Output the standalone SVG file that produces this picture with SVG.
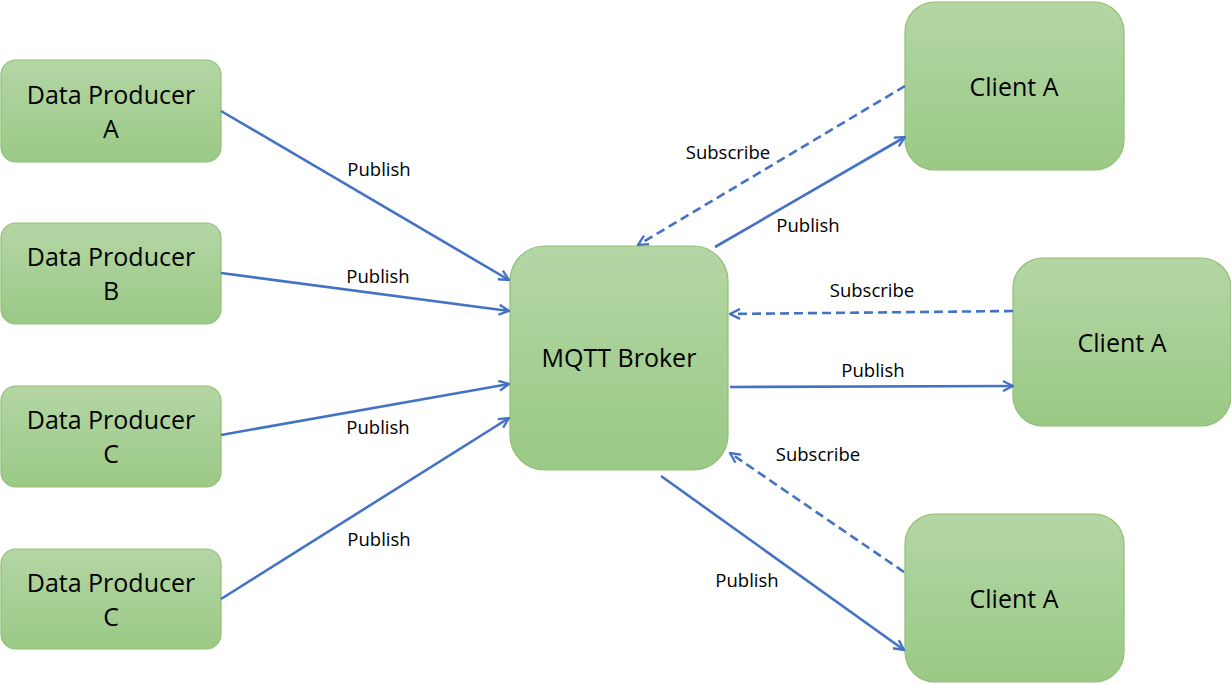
<svg xmlns="http://www.w3.org/2000/svg" width="1231" height="684" viewBox="0 0 1231 684">
<style>
.box{fill:url(#g);stroke:#8fbf72;stroke-width:1.2}
.nt{font-family:"Open Sans","Liberation Sans",sans-serif;font-size:25px;fill:#000;text-anchor:middle}
.lt{font-family:"Open Sans","Liberation Sans",sans-serif;font-size:18.5px;fill:#000;text-anchor:middle}
.c{stroke:#4472c4;stroke-width:2.6;fill:none;marker-end:url(#ah)}
.d{stroke-dasharray:9,5}
</style>
<defs>
<linearGradient id="g" x1="0" y1="0" x2="0" y2="1">
<stop offset="0" stop-color="#b4d6a5"/>
<stop offset="1" stop-color="#9ac985"/>
</linearGradient>
<marker id="ah" viewBox="0 0 12 12" refX="11" refY="6" markerWidth="12" markerHeight="12" markerUnits="userSpaceOnUse" orient="auto">
<path d="M1,1 L11,6 L1,11" fill="none" stroke="#4472c4" stroke-width="2.3"/>
</marker>
</defs>
<g id="producerA"><rect class="box" x="1" y="60" width="220" height="102" rx="15"/><text class="nt" x="111" y="104">Data Producer</text><text class="nt" x="111" y="138">A</text></g>
<g id="producerB"><rect class="box" x="1" y="223" width="220" height="101" rx="15"/><text class="nt" x="111" y="266">Data Producer</text><text class="nt" x="111" y="300">B</text></g>
<g id="producerC"><rect class="box" x="1" y="386" width="220" height="101" rx="15"/><text class="nt" x="111" y="429">Data Producer</text><text class="nt" x="111" y="463">C</text></g>
<g id="producerC2"><rect class="box" x="1" y="549" width="220" height="100" rx="15"/><text class="nt" x="111" y="592">Data Producer</text><text class="nt" x="111" y="626">C</text></g>
<g id="broker"><rect class="box" x="510" y="246" width="218" height="224" rx="35"/><text class="nt" x="619" y="367">MQTT Broker</text></g>
<g id="clientTop"><rect class="box" x="905" y="2" width="219" height="168" rx="30"/><text class="nt" x="1014" y="96">Client A</text></g>
<g id="clientMid"><rect class="box" x="1013" y="258" width="218" height="168" rx="30"/><text class="nt" x="1122" y="352">Client A</text></g>
<g id="clientBot"><rect class="box" x="905" y="514" width="219" height="168" rx="30"/><text class="nt" x="1014" y="608">Client A</text></g>
<g id="connectors">
<line class="c" x1="221" y1="111" x2="509" y2="280"/>
<line class="c" x1="221" y1="273" x2="509" y2="311"/>
<line class="c" x1="221" y1="435" x2="509" y2="384"/>
<line class="c" x1="221" y1="599" x2="509" y2="418"/>
<line class="c" x1="715" y1="247" x2="905" y2="137"/>
<line class="c d" x1="905" y1="86" x2="638" y2="245"/>
<line class="c d" x1="1013" y1="311" x2="730" y2="314"/>
<line class="c" x1="730" y1="387" x2="1013" y2="386"/>
<line class="c" x1="661" y1="476" x2="904" y2="650"/>
<line class="c d" x1="904" y1="572" x2="730" y2="453"/>
<text class="lt" x="379" y="176">Publish</text>
<text class="lt" x="378" y="283">Publish</text>
<text class="lt" x="378" y="434">Publish</text>
<text class="lt" x="379" y="546">Publish</text>
<text class="lt" x="728" y="159">Subscribe</text>
<text class="lt" x="808" y="232">Publish</text>
<text class="lt" x="872" y="297">Subscribe</text>
<text class="lt" x="873" y="377">Publish</text>
<text class="lt" x="818" y="461">Subscribe</text>
<text class="lt" x="747" y="587">Publish</text>
</g>
</svg>
